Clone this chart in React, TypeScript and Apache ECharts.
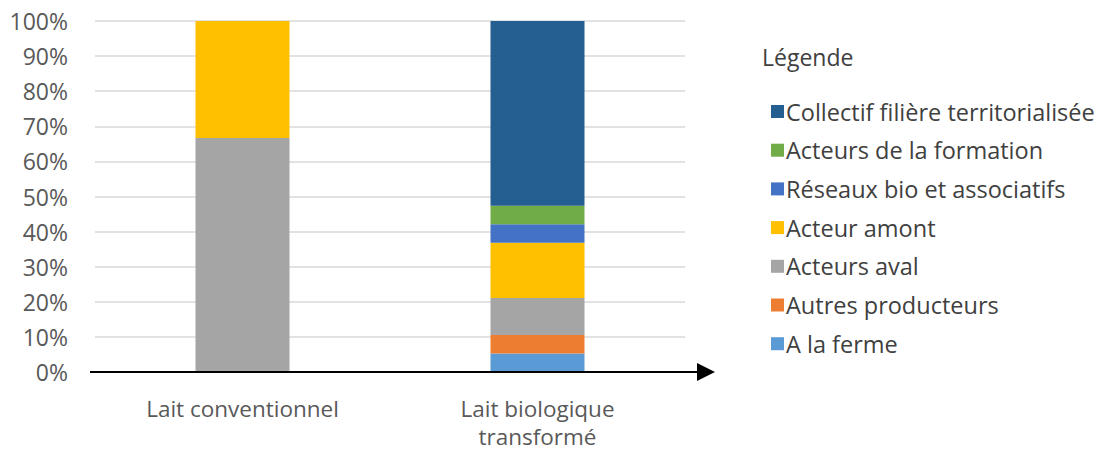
import React, { useEffect, useRef } from "react";
import * as echarts from "echarts";

const categories = ["Lait conventionnel", "Lait biologique\ntransformé"];
const seriesNames = [
  "A la ferme",
  "Autres producteurs",
  "Acteurs aval",
  "Acteur amont",
  "Réseaux bio et associatifs",
  "Acteurs de la formation",
  "Collectif filière territorialisée",
];
const seriesColors = ["#5b9bd5", "#ed7d31", "#a5a5a5", "#ffc000", "#4472c4", "#70ad47", "#255e91"];
const aLaFerme = [0, 5.26];
const autresProducteurs = [0, 5.26];
const acteursAval = [66.67, 10.53];
const acteurAmont = [33.33, 15.79];
const reseauxBio = [0, 5.26];
const acteursFormation = [0, 5.26];
const collectif = [0, 52.64];
const seriesValues = [aLaFerme, autresProducteurs, acteursAval, acteurAmont, reseauxBio, acteursFormation, collectif];
const legendOrder = [...seriesNames].reverse();

const FONT = "Open Sans";

export default function App() {
  const ref = useRef<HTMLDivElement>(null);
  useEffect(() => {
    if (!ref.current) return;
    const chart = echarts.init(ref.current, undefined, { renderer: "svg" });
    chart.setOption({
      animation: false,
      textStyle: { fontFamily: FONT },
      grid: { left: 95, right: 417, top: 21, bottom: 79, outerBoundsMode: "none", containLabel: false },
      title: {
        text: "Légende",
        left: 757,
        top: 40,
        textStyle: { fontFamily: FONT, fontSize: 23, fontWeight: "normal", color: "#404040" },
      },
      legend: {
        orient: "vertical",
        left: 766,
        top: 94.5,
        itemWidth: 13,
        itemHeight: 13,
        itemGap: 14.7,
        data: legendOrder,
        icon: "rect",
        textStyle: { fontFamily: FONT, fontSize: 23.5, color: "#404040", padding: [0, 0, 0, -3] },
      },
      xAxis: {
        type: "category",
        data: categories,
        axisLine: { show: false },
        axisTick: { show: false },
        axisLabel: { fontFamily: FONT, fontSize: 22.5, color: "#595959", margin: 22, lineHeight: 28 },
      },
      yAxis: {
        type: "value",
        min: 0,
        max: 100,
        interval: 10,
        axisLine: { show: false },
        axisTick: { show: false },
        splitLine: { lineStyle: { color: "#d9d9d9", width: 1.5 } },
        axisLabel: { formatter: "{value}%", fontFamily: FONT, fontSize: 23, color: "#595959", margin: 27 },
      },
      series: seriesNames.map((name, i) => ({
        name,
        type: "bar",
        stack: "total",
        barWidth: 94,
        data: seriesValues[i],
        itemStyle: { color: seriesColors[i] },
      })),
      graphic: [
        {
          type: "line",
          shape: { x1: 90, y1: 372, x2: 700, y2: 372 },
          style: { stroke: "#000", lineWidth: 2 },
          z: 100,
        },
        {
          type: "polygon",
          shape: { points: [[697, 363], [715, 372], [697, 381]] },
          style: { fill: "#000" },
          z: 100,
        },
      ],
    });
    return () => chart.dispose();
  }, []);
  return <div ref={ref} style={{ width: 1102, height: 451, position: "absolute", left: 0, top: 0 }} />;
}
